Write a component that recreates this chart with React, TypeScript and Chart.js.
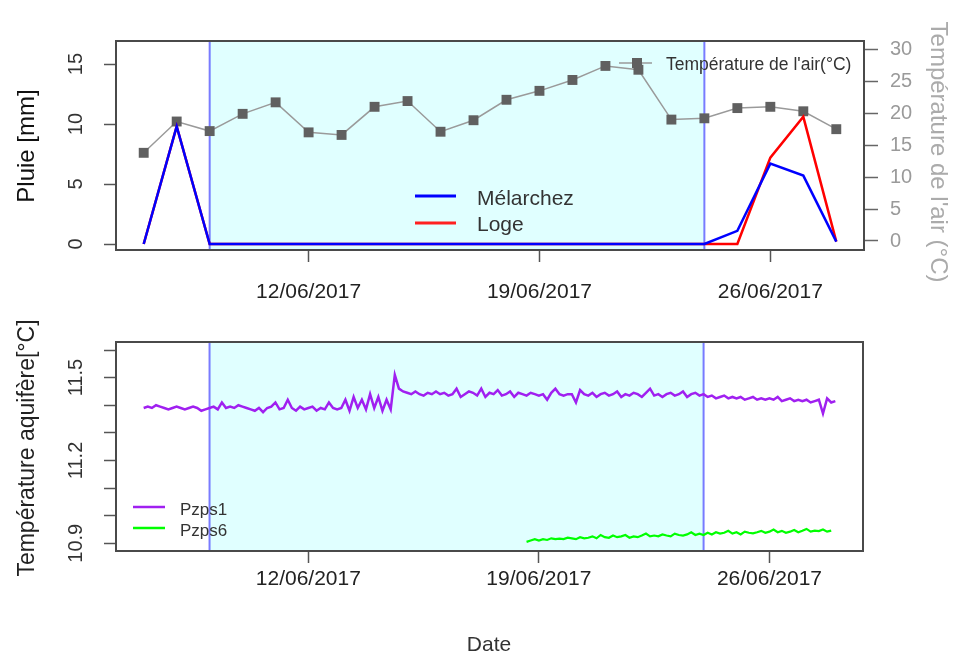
import React, { useEffect, useRef } from 'react';
import { Chart, registerables } from 'chart.js';
Chart.register(...registerables);

const FONT = '"Liberation Sans", Arial, Helvetica, sans-serif';

// ---- data ----
const days = [7, 8, 9, 10, 11, 12, 13, 14, 15, 16, 17, 18, 19, 20, 21, 22, 23, 24, 25, 26, 27, 28];
const melarchez = [0, 9.8, 0, 0, 0, 0, 0, 0, 0, 0, 0, 0, 0, 0, 0, 0, 0, 0, 1.1, 6.7, 5.7, 0.2];
const loge = [0, 9.8, 0, 0, 0, 0, 0, 0, 0, 0, 0, 0, 0, 0, 0, 0, 0, 0, 0, 7.2, 10.6, 0.2];
const airTemp = [13.8, 18.7, 17.2, 19.9, 21.7, 17.0, 16.6, 21.0, 21.9, 17.1, 18.9, 22.1, 23.5, 25.2, 27.4, 26.8, 19.0, 19.2, 20.8, 21.0, 20.3, 17.5];

const shadePeriod = [9, 24];

const xTickDays = [12, 19, 26];
const xTickLabels = ['12/06/2017', '19/06/2017', '26/06/2017'];
const rainTicks = [0, 5, 10, 15];
const airTicks = [0, 5, 10, 15, 20, 25, 30];
const aquiferTicks = [10.9, 11.0, 11.1, 11.2, 11.3, 11.4, 11.5, 11.6];
const aquiferLabelled = [10.9, 11.2, 11.5];

// Pzps1: every 3 hours from 07/06 00:00
const pzps1Start = 7;
const pzps1Step = 0.125;
const pzps1 = [
  11.39, 11.395, 11.39, 11.4, 11.395, 11.39, 11.385, 11.39,
  11.395, 11.39, 11.385, 11.39, 11.395, 11.39, 11.38, 11.385,
  11.39, 11.395, 11.385, 11.41, 11.39, 11.395, 11.39, 11.4,
  11.395, 11.39, 11.385, 11.38, 11.39, 11.375, 11.39, 11.395,
  11.41, 11.385, 11.39, 11.42, 11.39, 11.38, 11.395, 11.385,
  11.39, 11.395, 11.38, 11.39, 11.385, 11.41, 11.39, 11.385,
  11.39, 11.42, 11.38, 11.43, 11.39, 11.42, 11.385, 11.44,
  11.39, 11.43, 11.38, 11.42, 11.385,
  11.51,
  11.46, 11.45,
  11.445, 11.44, 11.45, 11.44, 11.435, 11.445, 11.44, 11.45,
  11.44, 11.445, 11.435, 11.44, 11.46, 11.43, 11.44, 11.45,
  11.445, 11.435, 11.46, 11.43, 11.445, 11.44, 11.455, 11.435,
  11.44, 11.45, 11.43, 11.445, 11.44, 11.435, 11.445, 11.44,
  11.435, 11.44, 11.42, 11.445, 11.46, 11.44, 11.435, 11.44,
  11.44, 11.41, 11.455, 11.44, 11.435, 11.445, 11.43, 11.44,
  11.445, 11.435, 11.44, 11.45, 11.43, 11.44, 11.435, 11.445,
  11.44, 11.43, 11.445, 11.46, 11.435, 11.44, 11.43, 11.44,
  11.445, 11.435, 11.44, 11.45, 11.43, 11.44, 11.445, 11.435,
  11.44, 11.43, 11.435, 11.425, 11.43, 11.435, 11.425, 11.43,
  11.425, 11.43, 11.42, 11.425, 11.43, 11.42, 11.425, 11.42,
  11.425, 11.42, 11.43, 11.415, 11.42, 11.425, 11.415, 11.42,
  11.415, 11.42, 11.41, 11.415, 11.42, 11.37, 11.425, 11.41,
  11.415,
];

// Pzps6: every 3 hours from 18/06 15:00
const pzps6Start = 18.625;
const pzps6Step = 0.125;
const pzps6 = [
  10.905, 10.91, 10.915, 10.91, 10.915, 10.912, 10.918, 10.915,
  10.917, 10.915, 10.92, 10.918, 10.915, 10.922, 10.918, 10.92,
  10.925, 10.918, 10.93, 10.922, 10.92, 10.928, 10.922, 10.925,
  10.93, 10.92, 10.925, 10.922, 10.928, 10.935, 10.925, 10.928,
  10.925, 10.932, 10.928, 10.925, 10.935, 10.93, 10.928, 10.932,
  10.94, 10.93, 10.935, 10.93, 10.938, 10.932, 10.94, 10.935,
  10.938, 10.945, 10.935, 10.94, 10.932, 10.942, 10.938, 10.936,
  10.94, 10.945, 10.938, 10.942, 10.95, 10.94, 10.945, 10.938,
  10.942, 10.948, 10.94, 10.945, 10.952, 10.942, 10.946, 10.944,
  10.95, 10.942, 10.946,
];

// ---- helpers ----
function txt(ctx: CanvasRenderingContext2D, s: string, x: number, y: number, size: number, color: string, rot = 0, align: CanvasTextAlign = 'center') {
  ctx.save();
  ctx.translate(x, y);
  ctx.rotate(rot);
  ctx.font = `${size}px ${FONT}`;
  ctx.fillStyle = color;
  ctx.textAlign = align;
  ctx.textBaseline = 'middle';
  ctx.fillText(s, 0, 0);
  ctx.restore();
}

function seg(ctx: CanvasRenderingContext2D, x0: number, x1: number, y: number, color: string, w: number) {
  ctx.save();
  ctx.strokeStyle = color;
  ctx.lineWidth = w;
  ctx.beginPath();
  ctx.moveTo(x0, y);
  ctx.lineTo(x1, y);
  ctx.stroke();
  ctx.restore();
}

const shadePlugin = {
  id: 'shade',
  beforeDatasetsDraw(chart: any) {
    const { ctx, chartArea: a, scales } = chart;
    const x0 = scales.x.getPixelForValue(shadePeriod[0]);
    const x1 = scales.x.getPixelForValue(shadePeriod[1]);
    ctx.save();
    ctx.fillStyle = '#E0FFFF';
    ctx.fillRect(x0, a.top, x1 - x0, a.bottom - a.top);
    ctx.strokeStyle = 'rgba(90,90,255,0.8)';
    ctx.lineWidth = 2;
    [x0, x1].forEach((x) => {
      ctx.beginPath();
      ctx.moveTo(x, a.top);
      ctx.lineTo(x, a.bottom);
      ctx.stroke();
    });
    ctx.restore();
  },
  afterDatasetsDraw(chart: any) {
    const { ctx, chartArea: a } = chart;
    ctx.save();
    ctx.strokeStyle = '#4a4a4a';
    ctx.lineWidth = 2;
    ctx.strokeRect(a.left, a.top, a.right - a.left, a.bottom - a.top);
    ctx.restore();
  },
};

const xScale = (padding: number, height: number) => ({
  type: 'linear',
  min: 6.16,
  max: 28.84,
  afterBuildTicks: (s: any) => { s.ticks = xTickDays.map((v) => ({ value: v })); },
  afterFit: (s: any) => { s.height = height; },
  border: { display: false },
  grid: { drawOnChartArea: false, drawTicks: true, tickLength: 12, tickColor: '#555', tickWidth: 1.5 },
  ticks: {
    autoSkip: false, maxRotation: 0, minRotation: 0, padding,
    font: { family: FONT, size: 21 }, color: '#222',
    callback: (_v: any, i: number) => xTickLabels[i],
  },
});

export default function App() {
  const topRef = useRef<HTMLCanvasElement>(null);
  const botRef = useRef<HTMLCanvasElement>(null);

  useEffect(() => {
    const topExtras = {
      id: 'topExtras',
      afterDraw(chart: any) {
        const { ctx, scales } = chart;
        rainTicks.forEach((v) => txt(ctx, String(v), 76, scales.y.getPixelForValue(v), 20, '#333', -Math.PI / 2));
        txt(ctx, 'Pluie [mm]', 27, 146, 24, '#111', -Math.PI / 2);
        txt(ctx, "Température de l'air (°C)", 938, 152, 24, '#ababab', Math.PI / 2);
        // temperature legend
        seg(ctx, 619, 652, 63, '#9a9a9a', 1.5);
        ctx.save();
        ctx.fillStyle = '#606060';
        ctx.fillRect(632, 58, 10, 10);
        ctx.restore();
        txt(ctx, "Température de l'air(°C)", 666, 65, 17.5, '#333', 0, 'left');
        // rain legend
        seg(ctx, 415, 456, 196, '#0000FF', 3);
        seg(ctx, 415, 456, 223, '#FF2020', 3);
        txt(ctx, 'Mélarchez', 477, 199, 21, '#333', 0, 'left');
        txt(ctx, 'Loge', 477, 225, 21, '#333', 0, 'left');
      },
    };

    const c1 = new Chart(topRef.current as HTMLCanvasElement, {
      type: 'line',
      data: {
        datasets: [
          {
            label: 'Mélarchez',
            data: days.map((d, i) => ({ x: d, y: melarchez[i] })),
            borderColor: '#0000FF', borderWidth: 2.5, pointRadius: 0, tension: 0, yAxisID: 'y',
          },
          {
            label: 'Loge',
            data: days.map((d, i) => ({ x: d, y: loge[i] })),
            borderColor: '#FF0000', borderWidth: 2.5, pointRadius: 0, tension: 0, yAxisID: 'y',
          },
          {
            label: "Température de l'air(°C)",
            data: days.map((d, i) => ({ x: d, y: airTemp[i] })),
            borderColor: '#9a9a9a', borderWidth: 1.5, tension: 0, yAxisID: 'y2',
            pointStyle: 'rect', pointRadius: 7, pointBackgroundColor: '#606060', pointBorderWidth: 0,
          },
        ],
      },
      options: {
        responsive: false,
        animation: false,
        events: [],
        layout: { padding: { top: 41, left: 0, right: 0, bottom: 0 } },
        plugins: { legend: { display: false }, tooltip: { enabled: false } },
        scales: {
          x: xScale(18, 80) as any,
          y: {
            type: 'linear', position: 'left', min: -0.5, max: 16.92,
            afterBuildTicks: (s: any) => { s.ticks = rainTicks.map((v) => ({ value: v })); },
            afterFit: (s: any) => { s.width = 116; },
            border: { display: false },
            grid: { drawOnChartArea: false, drawTicks: true, tickLength: 12, tickColor: '#555', tickWidth: 1.5 },
            ticks: { display: false },
          },
          y2: {
            type: 'linear', position: 'right', min: -1.41, max: 31.3,
            afterBuildTicks: (s: any) => { s.ticks = airTicks.map((v) => ({ value: v })); },
            afterFit: (s: any) => { s.width = 91; },
            border: { display: false },
            grid: { drawOnChartArea: false, drawTicks: true, tickLength: 14, tickColor: '#666', tickWidth: 1.5 },
            ticks: { padding: 12, font: { family: FONT, size: 20 }, color: '#9a9a9a' },
          },
        },
      },
      plugins: [shadePlugin, topExtras],
    } as any);

    // bottom canvas starts at page y = 310
    const botExtras = {
      id: 'botExtras',
      afterDraw(chart: any) {
        const { ctx, scales } = chart;
        aquiferLabelled.forEach((v) => txt(ctx, v.toFixed(1), 76, scales.y.getPixelForValue(v), 20, '#333', -Math.PI / 2));
        txt(ctx, 'Température aquifère[°C]', 28, 138, 23, '#222', -Math.PI / 2);
        seg(ctx, 133, 165, 197, '#A020F0', 2.5);
        seg(ctx, 133, 165, 218, '#00FF00', 2.5);
        txt(ctx, 'Pzps1', 180, 200, 17, '#333', 0, 'left');
        txt(ctx, 'Pzps6', 180, 221, 17, '#333', 0, 'left');
        txt(ctx, 'Date', 489, 335, 21, '#333');
      },
    };

    const c2 = new Chart(botRef.current as HTMLCanvasElement, {
      type: 'line',
      data: {
        datasets: [
          {
            label: 'Pzps1',
            data: pzps1.map((v, i) => ({ x: pzps1Start + i * pzps1Step, y: v })),
            borderColor: '#A020F0', borderWidth: 2.5, pointRadius: 0, tension: 0,
          },
          {
            label: 'Pzps6',
            data: pzps6.map((v, i) => ({ x: pzps6Start + i * pzps6Step, y: v })),
            borderColor: '#00FF00', borderWidth: 2.2, pointRadius: 0, tension: 0,
          },
        ],
      },
      options: {
        responsive: false,
        animation: false,
        events: [],
        layout: { padding: { top: 32, left: 0, right: 92, bottom: 0 } },
        plugins: { legend: { display: false }, tooltip: { enabled: false } },
        scales: {
          x: xScale(4, 109) as any,
          y: {
            type: 'linear', position: 'left', min: 10.872, max: 11.629,
            afterBuildTicks: (s: any) => { s.ticks = aquiferTicks.map((v) => ({ value: v })); },
            afterFit: (s: any) => { s.width = 116; },
            border: { display: false },
            grid: { drawOnChartArea: false, drawTicks: true, tickLength: 12, tickColor: '#555', tickWidth: 1.5 },
            ticks: { display: false },
          },
        },
      },
      plugins: [shadePlugin, botExtras],
    } as any);

    return () => {
      c1.destroy();
      c2.destroy();
    };
  }, []);

  return (
    <div style={{ position: 'absolute', left: 0, top: 0, width: 955, height: 660, background: '#fff' }}>
      <canvas ref={topRef} width={955} height={330} style={{ position: 'absolute', left: 0, top: 0 }} />
      <canvas ref={botRef} width={955} height={350} style={{ position: 'absolute', left: 0, top: 310 }} />
    </div>
  );
}
